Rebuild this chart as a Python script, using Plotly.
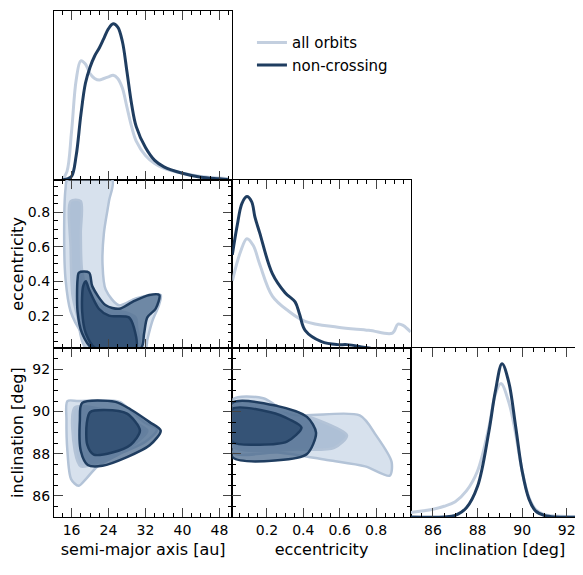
import plotly.graph_objects as go
from plotly.subplots import make_subplots

# ---- marginal densities ----
a_grid = [14, 15, 16, 17, 18, 19, 20, 21, 22, 23, 24, 25, 26, 27, 28, 29, 30, 32, 34, 36, 40, 44, 48, 50]
a_all = [0, 0.05, 0.3, 0.62, 0.74, 0.72, 0.66, 0.63, 0.62, 0.63, 0.64, 0.65, 0.63, 0.57, 0.45, 0.33, 0.24, 0.15, 0.1, 0.07, 0.04, 0.02, 0.01, 0.005]
a_nc = [0, 0.005, 0.02, 0.15, 0.4, 0.6, 0.7, 0.77, 0.82, 0.88, 0.94, 0.97, 0.95, 0.86, 0.67, 0.47, 0.33, 0.2, 0.12, 0.08, 0.04, 0.015, 0.005, 0]

e_nc_x = [0.01, 0.037, 0.063, 0.09, 0.116, 0.134, 0.16, 0.23, 0.30, 0.355, 0.38, 0.41, 0.50, 0.59, 0.64, 0.73, 0.77]
e_nc_y = [0.555, 0.73, 0.86, 0.90, 0.87, 0.78, 0.686, 0.443, 0.33, 0.275, 0.2, 0.107, 0.04, 0.022, 0.022, 0.007, 0]
e_all_x = [0.01, 0.054, 0.09, 0.125, 0.16, 0.23, 0.32, 0.41, 0.59, 0.76, 0.89, 0.92, 0.95, 0.99]
e_all_y = [0.40, 0.57, 0.65, 0.61, 0.50, 0.31, 0.22, 0.16, 0.125, 0.107, 0.09, 0.144, 0.135, 0.097]

i_grid_nc = [85, 86.5, 87, 87.5, 88, 88.5, 88.8, 89.1, 89.4, 89.7, 90, 90.3, 90.6, 91, 91.5, 93]
i_nc = [0, 0, 0.01, 0.06, 0.2, 0.55, 0.82, 1.0, 0.88, 0.6, 0.3, 0.12, 0.04, 0.01, 0, 0]
i_grid_all = [85, 86, 86.5, 87, 87.5, 88, 88.5, 88.8, 89.05, 89.4, 89.7, 90, 90.3, 90.6, 91, 92, 93]
i_all = [0.03, 0.05, 0.07, 0.1, 0.17, 0.3, 0.58, 0.8, 0.87, 0.75, 0.55, 0.3, 0.13, 0.05, 0.015, 0.003, 0]

# ---- contours: a vs e ----
ae_all_out_a = [15.1, 24.8, 24.1, 23.0, 22.7, 23.4, 26.3, 29.9, 33.5, 35.3, 34.9, 33.5, 32.4, 32.0, 21.2, 18.3, 15.8, 14.7, 14.4, 14.7, 15.1]
ae_all_out_e = [0.99, 0.99, 0.865, 0.68, 0.50, 0.35, 0.26, 0.30, 0.32, 0.32, 0.26, 0.17, 0.06, 0.01, 0.01, 0.096, 0.224, 0.41, 0.68, 0.94, 0.99]
ae_all_in_a = [15.8, 18.0, 18.0, 18.3, 19.8, 23.4, 27.7, 29.9, 30.2, 30.6, 19.1, 17.3, 16.2, 15.8, 15.8]
ae_all_in_e = [0.865, 0.865, 0.68, 0.46, 0.32, 0.24, 0.22, 0.19, 0.13, 0.01, 0.01, 0.19, 0.32, 0.59, 0.865]
ae_nc_out_a = [17.6, 19.8, 20.5, 23.4, 26.3, 29.2, 32.8, 35.0, 34.2, 32.4, 31.7, 31.0, 20.5, 18.3, 17.3, 17.3, 17.6]
ae_nc_out_e = [0.45, 0.45, 0.37, 0.26, 0.24, 0.28, 0.32, 0.32, 0.24, 0.19, 0.096, 0.01, 0.01, 0.096, 0.224, 0.41, 0.45]
ae_nc_in_a = [19.1, 19.8, 21.9, 24.1, 28.4, 29.5, 29.9, 21.2, 19.1, 18.3, 18.5, 19.1]
ae_nc_in_e = [0.40, 0.35, 0.24, 0.20, 0.19, 0.13, 0.01, 0.01, 0.096, 0.224, 0.37, 0.40]

# ---- contours: a vs i ----
ai_all_out_a = [15.1, 17.5, 26.4, 28.8, 32.0, 34.5, 32.0, 26.4, 21.6, 19.1, 17.5, 15.9, 15.1, 14.9, 15.1]
ai_all_out_i = [90.5, 90.5, 90.46, 90.04, 89.46, 89.16, 88.57, 87.99, 87.4, 86.8, 86.48, 86.8, 88.13, 89.6, 90.5]
ai_all_in_a = [16.7, 22.7, 28.4, 32.4, 28.4, 22.0, 18.0, 16.7, 16.7]
ai_all_in_i = [90.2, 90.1, 89.6, 89.1, 88.28, 87.6, 87.4, 88.13, 90.2]
ai_nc_out_a = [18.3, 25.5, 28.8, 32.9, 35.3, 32.9, 28.0, 22.7, 19.5, 18.0, 17.8, 18.3]
ai_nc_out_i = [90.41, 90.46, 90.1, 89.5, 89.1, 88.4, 87.84, 87.43, 87.47, 88.13, 89.6, 90.41]
ai_nc_in_a = [20.0, 23.2, 28.0, 30.8, 28.8, 24.8, 20.8, 19.4, 19.3, 20.0]
ai_nc_in_i = [89.97, 90.07, 89.9, 89.1, 88.43, 88.06, 87.96, 88.43, 89.46, 89.97]

# ---- contours: e vs i ----
ei_all_out_e = [0.01, 0.18, 0.33, 0.71, 0.80, 0.885, 0.875, 0.74, 0.54, 0.26, 0.01, 0.01]
ei_all_out_i = [90.56, 90.63, 89.87, 89.82, 88.87, 87.62, 86.96, 87.4, 87.69, 88.06, 88.06, 90.56]
ei_all_in_e = [0.01, 0.26, 0.48, 0.64, 0.57, 0.37, 0.01, 0.01]
ei_all_in_i = [90.34, 90.12, 89.6, 88.87, 88.28, 88.2, 88.35, 90.34]
ei_nc_out_e = [0.01, 0.26, 0.42, 0.47, 0.42, 0.26, 0.01, 0.01]
ei_nc_out_i = [90.41, 90.26, 89.75, 89.0, 87.99, 87.69, 87.84, 90.41]
ei_nc_in_e = [0.01, 0.22, 0.33, 0.39, 0.31, 0.16, 0.01, 0.01]
ei_nc_in_i = [90.12, 89.97, 89.6, 89.24, 88.57, 88.43, 88.57, 90.12]

LIGHT = "#c3cfdf"
DARK = "#1f3d60"
FILL_LO = "rgba(175,195,220,0.5)"
FILL_LI = "rgba(140,165,195,0.55)"
FILL_DO = "rgba(75,105,140,0.75)"
FILL_DI = "rgba(45,75,110,0.85)"

fig = make_subplots(rows=3, cols=3, horizontal_spacing=0, vertical_spacing=0)

def line(x, y, color, r, c, name=None, show=False):
    fig.add_trace(go.Scatter(x=x, y=y, mode="lines", line=dict(color=color, width=3, shape="spline", smoothing=1.0),
                             name=name, showlegend=show, hoverinfo="skip"), row=r, col=c)

def blob(x, y, fill, color, r, c):
    fig.add_trace(go.Scatter(x=x, y=y, mode="lines", fill="toself", fillcolor=fill,
                             line=dict(color=color, width=2.5, shape="spline", smoothing=0.8),
                             showlegend=False, hoverinfo="skip"), row=r, col=c)

line(a_grid, a_all, LIGHT, 1, 1, "all orbits", True)
line(a_grid, a_nc, DARK, 1, 1, "non-crossing", True)
line(e_all_x, e_all_y, LIGHT, 2, 2)
line(e_nc_x, e_nc_y, DARK, 2, 2)
line(i_grid_all, i_all, LIGHT, 3, 3)
line(i_grid_nc, i_nc, DARK, 3, 3)

blob(ae_all_out_a, ae_all_out_e, FILL_LO, "#b3c3d7", 2, 1)
blob(ae_all_in_a, ae_all_in_e, FILL_LI, "#b3c3d7", 2, 1)
blob(ae_nc_out_a, ae_nc_out_e, FILL_DO, DARK, 2, 1)
blob(ae_nc_in_a, ae_nc_in_e, FILL_DI, DARK, 2, 1)

blob(ai_all_out_a, ai_all_out_i, FILL_LO, "#b3c3d7", 3, 1)
blob(ai_all_in_a, ai_all_in_i, FILL_LI, "#b3c3d7", 3, 1)
blob(ai_nc_out_a, ai_nc_out_i, FILL_DO, DARK, 3, 1)
blob(ai_nc_in_a, ai_nc_in_i, FILL_DI, DARK, 3, 1)

blob(ei_all_out_e, ei_all_out_i, FILL_LO, "#b3c3d7", 3, 2)
blob(ei_all_in_e, ei_all_in_i, FILL_LI, "#b3c3d7", 3, 2)
blob(ei_nc_out_e, ei_nc_out_i, FILL_DO, DARK, 3, 2)
blob(ei_nc_in_e, ei_nc_in_i, FILL_DI, DARK, 3, 2)

A_RANGE = [12.2, 50.8]
E_RANGE = [0.01, 0.99]
I_RANGE = [85, 93]
F = dict(family="DejaVu Sans", size=14, color="black")

def ax(rng, dtick, tick0, minor, labels, title=None):
    d = dict(range=rng, tick0=tick0, dtick=dtick, ticks="inside", ticklen=9, tickwidth=1.2,
             mirror="allticks", showline=True, linecolor="black", linewidth=1.2,
             showgrid=False, zeroline=False, showticklabels=labels, tickfont=F,
             minor=dict(ticks="inside", dtick=minor, ticklen=4, tickcolor="black", showgrid=False))
    if title:
        d["title"] = dict(text=title, font=dict(family="DejaVu Sans", size=16), standoff=6)
    return d

fig.update_xaxes(ax(A_RANGE, 8, 16, 2, False), row=1, col=1)
fig.update_yaxes(range=[0, 1.05], showline=True, mirror=True, linecolor="black", linewidth=1.2,
                 showticklabels=False, ticks="", showgrid=False, zeroline=False, row=1, col=1)
fig.update_xaxes(ax(A_RANGE, 8, 16, 2, False), row=2, col=1)
fig.update_yaxes(ax(E_RANGE, 0.2, 0.2, 0.05, True, "eccentricity"), row=2, col=1)
fig.update_xaxes(ax(E_RANGE, 0.2, 0.2, 0.05, False), row=2, col=2)
fig.update_yaxes(range=[0, 1.0], showline=True, mirror=True, linecolor="black", linewidth=1.2,
                 showticklabels=False, ticks="", showgrid=False, zeroline=False, row=2, col=2)
fig.update_xaxes(ax(A_RANGE, 8, 16, 2, True, "semi-major axis [au]"), row=3, col=1)
fig.update_yaxes(ax(I_RANGE, 2, 86, 0.5, True, "inclination [deg]"), row=3, col=1)
fig.update_xaxes(ax(E_RANGE, 0.2, 0.2, 0.05, True, "eccentricity"), row=3, col=2)
fig.update_yaxes(ax(I_RANGE, 2, 86, 0.5, False), row=3, col=2)
fig.update_xaxes(ax(I_RANGE, 2, 86, 0.5, True, "inclination [deg]"), row=3, col=3)
fig.update_yaxes(range=[0, 1.1], showline=True, mirror=True, linecolor="black", linewidth=1.2,
                 showticklabels=False, ticks="", showgrid=False, zeroline=False, row=3, col=3)

for (r, c) in [(1, 2), (1, 3), (2, 3)]:
    fig.update_xaxes(visible=False, row=r, col=c)
    fig.update_yaxes(visible=False, row=r, col=c)

fig.update_layout(
    width=583, height=575, plot_bgcolor="white", paper_bgcolor="white",
    margin=dict(l=46, r=2, t=3, b=66),
    font=dict(family="DejaVu Sans", color="black"),
    legend=dict(x=0.37, y=0.97, xanchor="left", yanchor="top", bgcolor="rgba(0,0,0,0)",
                font=dict(family="DejaVu Sans", size=15), tracegroupgap=2),
)

fig.write_html("out.html")
